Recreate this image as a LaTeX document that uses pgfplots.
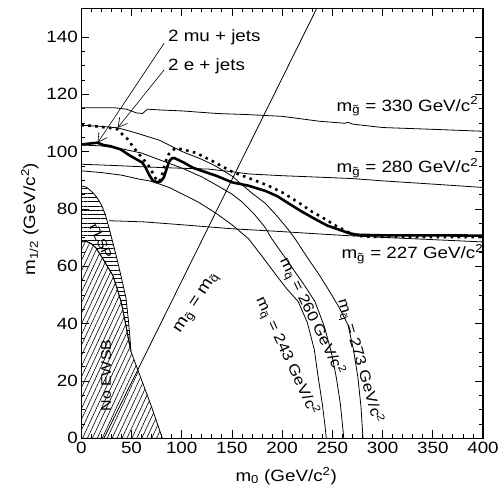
\documentclass[border=0pt]{standalone}
\usepackage{fontspec}
\setmainfont{Liberation Sans}[FakeStretch=1.15]
\usepackage{pgfplots}
\pgfplotsset{compat=1.18}
\usetikzlibrary{patterns.meta,arrows.meta}

\newcommand{\mg}{m\textsubscript{\~{g}}}
\newcommand{\mq}{m\textsubscript{\~{q}}}

\begin{document}
\begin{tikzpicture}[font=\fontsize{16.5}{19}\selectfont]
\begin{axis}[
  scale only axis, width=404bp, height=432.5bp,
  xmin=0, xmax=400, ymin=0, ymax=150,
  xtick={0,50,...,400}, ytick={0,20,...,140},
  minor x tick num=4, minor y tick num=3,
  tick align=inside,
  major tick length=8bp, minor tick length=4bp,
  axis line style={line width=1.2bp},
  every tick/.style={black, line width=0.8bp},
  /pgf/number format/assume math mode=true,
  xlabel={m\textsubscript{0} (GeV/c\textsuperscript{2})},
  ylabel={m\textsubscript{1/2} (GeV/c\textsuperscript{2})},
  xlabel style={at={(rel axis cs:0.51,-0.1)}, anchor=base},
  ylabel style={at={(rel axis cs:-0.128,0.51)}, anchor=center},
  cont/.style={black, line width=0.8bp, no markers},
]

% No EWSB region
\addplot[cont, pattern={Lines[angle=65,distance=4.5bp,line width=0.6bp]}] coordinates {
(0,68.5)(5,68.7)(10,67.9)(15,66.3)(21.4,62.7)(26,60)(31.3,56.9)(35.5,52.5)(39.6,47.7)(44.5,39.5)(47,34.5)(49.5,30.3)(61,19.5)(70,11)(80.8,0)
} \closedcycle;

% stau LSP region
\addplot[cont, pattern={Lines[angle=0,distance=4.3bp,line width=0.6bp]}] coordinates {
(0,88.1)(5,87.6)(10,86.2)(15,84.3)(20,81.5)(24,78)(28,73)(32,67.5)(36,62)(40,56)(44.5,49)(47,41)(48.5,35)(49.5,30.3)
(47,34.5)(44.5,39.5)(39.6,47.7)(35.5,52.5)(31.3,56.9)(26,60)(21.4,62.7)(15,66.3)(10,67.9)(5,68.7)(0,68.5)
} -- cycle;

% gluino mass contours
\addplot[cont] coordinates {(0,115.3)(33,115.3)(45,114.8)(55,113.5)(61,113.3)(66,114.8)(80,114.5)(100,114.2)(135,113.3)(166,112.9)(200,112.3)(237,110.6)(262,109.9)(266,110.2)(270,109.6)(300,108.4)(340,107.9)(370,107.5)(400,107.1)};
\addplot[cont] coordinates {(0,95.6)(30,95.2)(68,94.6)(100,94.2)(127,93.9)(150,93.0)(167,92.2)(200,91.6)(243,91.0)(270,90.6)(300,89.8)(340,88.9)(370,88.2)(400,87.5)};
\addplot[cont] coordinates {(27.7,75.9)(62,75.5)(100,74.5)(125,73.8)(150,73.1)(200,72.1)(236,71.3)(265,70.7)(300,70.1)(350,69.3)(400,68.5)};

% squark mass contours
\addplot[cont] coordinates {(0,93.3)(20,92.7)(40,91.8)(57.7,90.4)(67.6,89.8)(75.5,89.0)(87.4,87.5)(107,84.1)(117,82.3)(135,78.3)(150,74.5)(166.6,69.6)(180,63.5)(195,56.5)(205,52)(216,47.7)(225,40.5)(232,31)(236,21.1)(240,12)(242.5,5)(244,0)};
\addplot[cont] coordinates {(0,102.3)(20,102)(40,101)(60,99.5)(77.5,97.2)(100.6,94.2)(120,91.2)(133.7,88.5)(150,85.2)(160,82.5)(172,78.3)(183.2,73.5)(189.7,69.6)(200,64.5)(210,59.5)(222,53.5)(232.7,47.7)(242,39)(249,30)(254,21.1)(258,12)(260,5)(261.4,0)};
\addplot[cont] coordinates {(0,109.2)(20,108.8)(36,108.3)(50,107)(77.6,104)(100.6,100)(120,97.3)(133.7,95)(150,91.5)(160,88.5)(170,85.5)(183.2,82)(195,77.5)(206.2,72.8)(212.9,69.6)(226,62.6)(237,57)(247.5,51.1)(257,45.5)(265.6,39.5)(271,31)(275.5,21.1)(278.5,11)(280.5,0)};

% gluino = squark
\addplot[cont] coordinates {(22.5,0)(234.5,150)};

% 2 e + jets (dotted)
\addplot[black, no markers, line width=2.6bp, line cap=butt, dash pattern=on 2.6bp off 4.4bp] coordinates {
(0,109.2)(10,109.0)(20,108.6)(30,108.2)(36,107.8)(41,106)(45.8,104.5)(52,101.5)(59,98.5)(63,96.8)(67.3,95)(72,92)(75,90)(77.2,89.5)(79.5,90.5)(82.2,94.4)(85,97.5)(87.1,99.1)(91,100.6)(95.3,101.2)(100.6,100.8)(113.9,99.6)(130,96.8)(150.1,93.0)(166.6,90.8)(186.4,88.1)(200,85.8)(216.1,82.3)(230,79)(242.6,76.5)(255,73.8)(262.4,72.5)(270,71.2)(275.5,70.6)(290,70.3)(350,70.2)(400,70.2)};

% 2 mu + jets (thick)
\addplot[black, no markers, line width=2.6bp] coordinates {
(0,102.5)(8,102.8)(16,103.1)(22,102.3)(29,101.9)(39,100.8)(49,98.5)(60.7,96.2)(64,94.5)(67.3,92.1)(71,90)(75.5,89.3)(79,89.6)(82.2,91)(85,94)(87.4,96.5)(90,97.6)(92.4,97.8)(102,96.2)(110.5,94.5)(115,93.9)(135,91.5)(150,89.3)(166.6,88.1)(183.2,86.3)(195,84.5)(206.2,82.0)(220,79)(232.7,76.5)(245,74.2)(259,72.5)(267,71.5)(275.5,71)(300,70.8)(350,70.8)(400,70.7)};

% annotations
\node[anchor=west] at (axis cs:83,140) {2 mu + jets};
\node[anchor=west] at (axis cs:83,129.9) {2 e + jets};
\draw[line width=0.6bp, -{Straight Barb[length=9bp,width=10bp]}] (axis cs:82.5,137.8) -- (axis cs:16.4,103.1);
\draw[line width=0.6bp, -{Straight Barb[length=9bp,width=10bp]}] (axis cs:82.5,128.5) -- (axis cs:36.2,108.3);

\node[anchor=base west] at (axis cs:250.8,114.1) {\mg{} = 330 GeV/c\textsuperscript{2}};
\node[anchor=base west] at (axis cs:250.8,92.7) {\mg{} = 280 GeV/c\textsuperscript{2}};
\node[anchor=base west] at (axis cs:255.7,62.7) {\mg{} = 227 GeV/c\textsuperscript{2}};

\node[rotate=-65, font=\fontsize{15}{17}\selectfont] at (axis cs:204.6,28.6) {\mq{} = 243 GeV/c\textsuperscript{2}};
\node[rotate=-64, font=\fontsize{15}{17}\selectfont] at (axis cs:229.3,42.5) {\mq{} = 260 GeV/c\textsuperscript{2}};
\node[rotate=-74, font=\fontsize{15}{17}\selectfont] at (axis cs:277.2,26.9) {\mq{} = 273 GeV/c\textsuperscript{2}};
\node[rotate=57] at (axis cs:115.4,47.1) {\mg{} = \mq};

\node[rotate=90, font=\fontsize{14}{16}\selectfont] at (axis cs:24.8,21.9) {No EWSB};
\node[rotate=-65, font=\fontsize{13}{15}\selectfont] at (axis cs:19.4,69) {\~{τ} LSP};
\end{axis}
\path (current axis.south west) -- ++(-81.7bp,-48.2bp);
\path (current axis.north east) -- ++(16.3bp,8.3bp);
\end{tikzpicture}
\end{document}
